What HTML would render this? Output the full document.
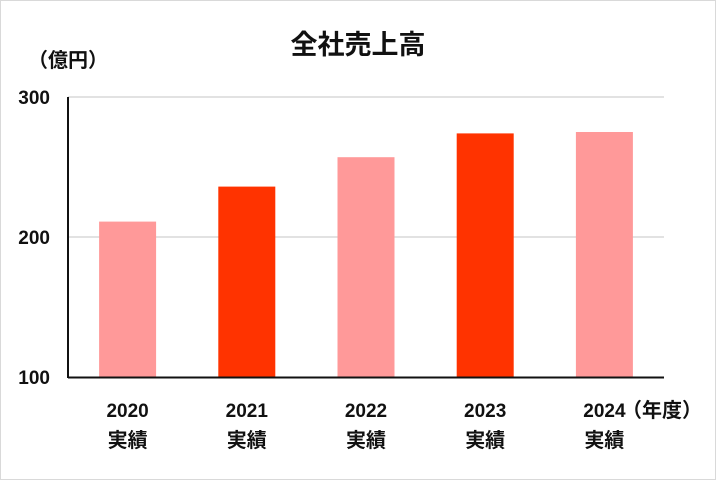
<!DOCTYPE html>
<html><head><meta charset="utf-8"><style>
body{margin:0;background:#fff}
svg{display:block;font-family:"Liberation Sans","Noto Sans CJK JP",sans-serif}
</style></head><body>
<svg width="716" height="480" viewBox="0 0 716 480">
<rect x="0.5" y="0.5" width="715" height="479" fill="#fff" stroke="#d9d9d9"/>
<text x="358" y="54" text-anchor="middle" font-size="27" font-weight="bold" fill="#111">全社売上高</text>
<text x="28" y="67" font-size="20" font-weight="bold" fill="#111">（億円）</text>
<g id="grid"></g><g id="bars"></g><g id="ylabels"></g><g id="xlabels"></g>
<line x1="68" y1="97" x2="68" y2="378" stroke="#111" stroke-width="2"/>
<line x1="68" y1="377.5" x2="664" y2="377.5" stroke="#111" stroke-width="2"/>
<text x="622" y="417" font-size="20" font-weight="bold" fill="#111">（年度）</text>
</svg>
<script>
const categories=["2020","2021","2022","2023","2024"];
const values=[211,236,257,274,275];
const colors=["#FF9999","#FF3300","#FF9999","#FF3300","#FF9999"];
const ticks=[100,200,300];
const ns="http://www.w3.org/2000/svg";
const y0=377,y1=97,vmin=100,vmax=300,xl=68,xr=664;
const yS=v=>y0-(v-vmin)/(vmax-vmin)*(y0-y1);
const band=(xr-xl)/categories.length;
function mk(t,a,p){const e=document.createElementNS(ns,t);for(const k in a)e.setAttribute(k,a[k]);p.appendChild(e);return e;}
const g=document.getElementById("grid"),b=document.getElementById("bars"),yl=document.getElementById("ylabels"),xlab=document.getElementById("xlabels");
ticks.forEach(t=>{
 if(t>vmin){const l=mk("line",{x1:xl,x2:xr,y1:yS(t),y2:yS(t),stroke:"#d9d9d9","stroke-width":1.5},g);
 
 }
 const tx=mk("text",{x:50,y:yS(t)+7,"text-anchor":"end","font-size":19,"font-weight":"bold",fill:"#111"},yl);
 tx.textContent=t;
 
 
});
categories.forEach((c,i)=>{
 const cx=xl+band*(i+0.5),w=57;
 const r=mk("rect",{x:cx-w/2,y:yS(values[i]),width:w,height:y0-yS(values[i]),fill:colors[i]},b);
 
 
 const t1=mk("text",{x:cx,y:417,"text-anchor":"middle","font-size":19,"font-weight":"bold",fill:"#111"},xlab);
 t1.textContent=c;
 
 
 const t2=mk("text",{x:cx,y:447,"text-anchor":"middle","font-size":20,"font-weight":"bold",fill:"#111"},xlab);
 t2.textContent="実績";
 
 
});
</script>
</body></html>
